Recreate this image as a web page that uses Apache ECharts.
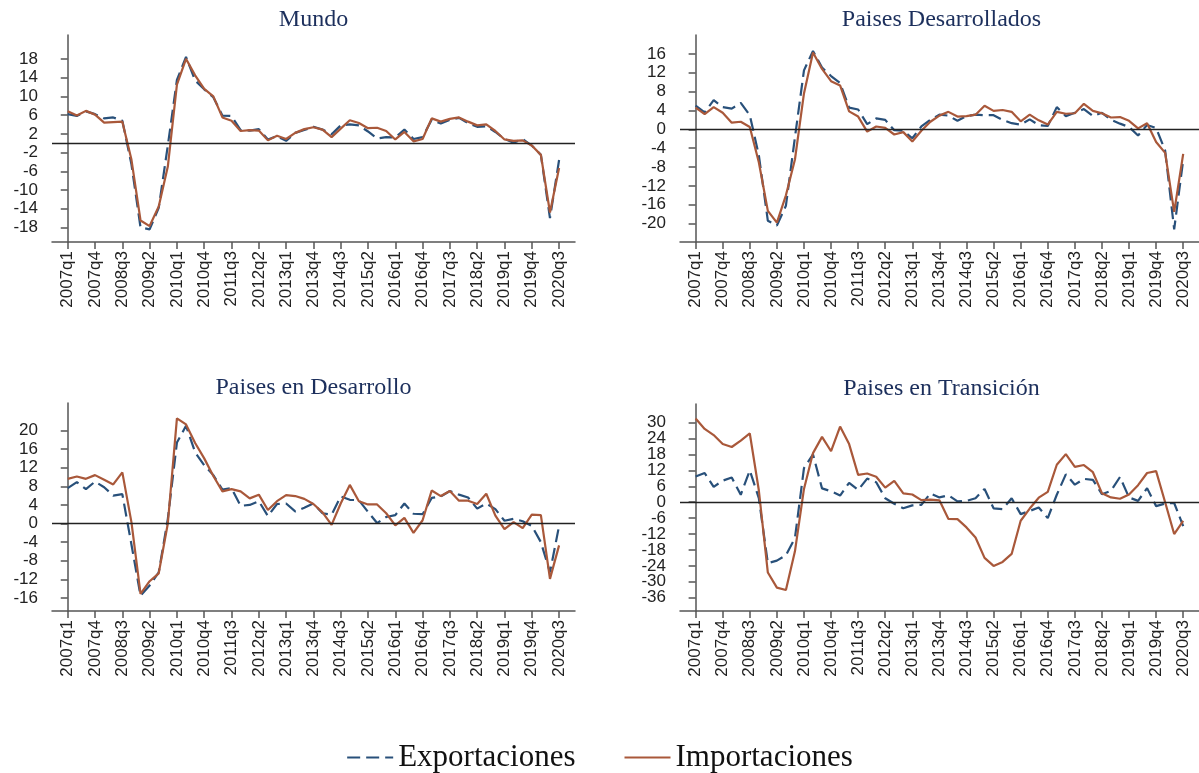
<!DOCTYPE html>
<html>
	<head>
		<meta charset="utf-8">
		<title></title>
		<script src="https://cdn.jsdelivr.net/npm/echarts@6/dist/echarts.min.js"></script>
	</head>
	<body style="margin:0;background:#fff;">
		<div id="my" style="width: 1199px;height: 773px;"></div>

		<script>
			var myChart = echarts.init(document.getElementById('my'));

			// trimestres 2007q1 .. 2020q3
			var quarters = [];
			for (var y = 2007; y <= 2020; y++) {
				for (var q = 1; q <= 4; q++) {
					if (y === 2020 && q > 3) break;
					quarters.push(y + 'q' + q);
				}
			}
			var xTicks = [0, 3, 6, 9, 12, 15, 18, 21, 24, 27, 30, 33, 36, 39, 42, 45, 48, 51, 54];

			var titles = ['Mundo', 'Paises Desarrollados', 'Paises en Desarrollo', 'Paises en Transición'];

			// Mundo
			var mundoExp = [6.2, 5.8, 6.8, 6.2, 5.3, 5.5, 4.8, -4.5, -18.0, -18.4, -13.8, -0.5, 13.5, 18.4, 13.4, 11.5, 9.8, 5.9, 5.8, 2.8,
				2.7, 3.0, 0.8, 1.5, 0.5, 2.2, 2.8, 3.5, 2.9, 1.9, 3.8, 4.0, 3.8, 2.5, 1.0, 1.3, 1.2, 2.9, 0.9, 1.3,
				5.0, 4.2, 5.0, 5.4, 4.3, 3.5, 3.6, 2.4, 0.9, 0.1, 0.9, -0.5, -2.5, -16.0, -3.6];
			var mundoImp = [6.8, 5.9, 6.9, 6.1, 4.4, 4.5, 4.6, -3.5, -16.5, -17.7, -13.5, -5.0, 12.5, 18.0, 14.5, 11.6, 10.0, 5.5, 4.8, 2.6,
				2.8, 2.7, 0.6, 1.6, 0.9, 2.2, 3.0, 3.4, 2.9, 1.3, 3.1, 4.9, 4.3, 3.2, 3.3, 2.6, 0.8, 2.4, 0.4, 0.9,
				5.3, 4.6, 5.2, 5.5, 4.6, 3.8, 4.0, 2.6, 0.8, 0.5, 0.6, -0.5, -2.5, -14.8, -5.3];

			// Paises Desarrollados
			var desaExp = [5.0, 3.6, 6.2, 4.7, 4.4, 5.6, 3.0, -5.5, -19.4, -20.4, -16.2, -1.7, 12.5, 16.6, 13.1, 11.3, 9.8, 4.6, 4.2, 1.1,
				2.3, 2.0, -0.2, -0.3, -1.9, 0.6, 2.0, 3.1, 2.9, 1.8, 2.8, 3.1, 3.0, 3.0, 2.0, 1.3, 1.0, 2.1, 0.9, 0.7,
				4.7, 2.8, 3.5, 4.3, 2.8, 3.5, 2.0, 1.2, 0.5, -1.3, 0.9, 0.3, -4.5, -21.2, -6.5];
			var desaImp = [4.6, 3.2, 4.7, 3.5, 1.4, 1.6, 0.5, -7.0, -17.3, -19.8, -14.0, -6.4, 7.6, 16.3, 12.8, 10.2, 9.3, 3.8, 2.7, -0.5,
				0.6, 0.3, -1.1, -0.6, -2.6, -0.3, 1.6, 2.9, 3.7, 2.7, 2.8, 3.1, 5.0, 3.9, 4.1, 3.7, 1.7, 3.1, 1.9, 1.0,
				3.7, 3.3, 3.4, 5.4, 3.9, 3.4, 2.5, 2.6, 1.8, 0.2, 1.3, -2.7, -5.0, -17.5, -5.2];

			// Paises en Desarrollo
			var enDesExp = [7.6, 8.9, 7.4, 9.0, 7.8, 6.0, 6.3, -4.5, -15.5, -13.3, -10.5, 1.0, 17.4, 21.0, 15.3, 12.5, 10.4, 7.3, 7.6, 3.8,
				4.0, 4.8, 1.6, 4.2, 4.3, 2.6, 3.4, 4.3, 2.2, 1.9, 5.8, 5.1, 5.0, 2.5, 0.1, 1.4, 1.8, 4.3, 2.1, 2.0,
				5.5, 5.8, 7.0, 6.2, 5.6, 3.2, 4.3, 3.1, 0.6, 1.0, 0.5, -0.5, -4.0, -10.5, -0.5];
			var enDesImp = [9.6, 10.1, 9.6, 10.4, 9.4, 8.4, 11.0, 0.3, -15.1, -12.4, -10.7, 0.0, 22.6, 21.3, 17.3, 14.0, 10.2, 6.9, 7.4, 6.9,
				5.4, 6.2, 2.9, 4.8, 6.1, 5.9, 5.3, 4.2, 2.4, -0.3, 4.3, 8.3, 4.8, 4.1, 4.1, 2.2, -0.4, 1.2, -2.0, 0.7,
				7.1, 5.9, 7.0, 4.9, 4.9, 4.2, 6.4, 1.7, -1.2, 0.3, -1.0, 1.9, 1.8, -11.9, -4.7];

			// Paises en Transicion
			var tranExp = [9.7, 11.0, 5.8, 8.1, 9.3, 2.8, 12.0, 1.5, -23.0, -22.0, -20.0, -13.5, 12.8, 18.0, 5.2, 4.1, 2.5, 7.3, 4.6, 8.9,
				7.5, 1.5, -0.6, -2.3, -1.2, -1.0, 3.3, 1.8, 2.6, 0.3, 0.5, 1.5, 5.0, -2.3, -2.6, 1.5, -4.5, -3.3, -2.0, -6.0,
				2.8, 10.5, 6.6, 8.8, 8.4, 3.0, 4.3, 9.5, 1.8, 0.5, 5.3, -1.5, -0.5, -0.3, -9.0];
			var tranImp = [31.5, 27.6, 25.3, 21.9, 20.8, 23.2, 25.9, 4.5, -26.5, -32.2, -33.1, -18.5, 5.0, 18.5, 24.6, 19.2, 28.5, 21.9, 10.3, 10.8,
				9.6, 5.5, 8.0, 3.3, 2.9, 0.8, 1.0, 0.7, -6.3, -6.4, -9.5, -13.3, -21.0, -24.0, -22.5, -19.5, -7.0, -2.4, 1.7, 3.9,
				14.1, 18.1, 13.3, 14.0, 11.3, 3.4, 1.8, 1.3, 2.9, 6.4, 11.0, 11.7, 0.0, -12.0, -7.0];

			var yTicks1 = [-18, -14, -10, -6, -2, 2, 6, 10, 14, 18];
			var yTicks2 = [-20, -16, -12, -8, -4, 0, 4, 8, 12, 16];
			var yTicks3 = [-16, -12, -8, -4, 0, 4, 8, 12, 16, 20];
			var yTicks4 = [-36, -30, -24, -18, -12, -6, 0, 6, 12, 18, 24, 30];

			var expColor = '#28507a';
			var impColor = '#a9583a';

			var panels = [
				{exp: mundoExp, imp: mundoImp, ticks: yTicks1, min: -21.1, max: 23.1, left: 52, top: 35, height: 207},
				{exp: desaExp, imp: desaImp, ticks: yTicks2, min: -23.9, max: 20.0, left: 680, top: 35, height: 207},
				{exp: enDesExp, imp: enDesImp, ticks: yTicks3, min: -18.8, max: 25.9, left: 52, top: 403, height: 208},
				{exp: tranExp, imp: tranImp, ticks: yTicks4, min: -41, max: 37, left: 680, top: 404, height: 207}
			];
			var plotWidth = 523;

			function toPairs(arr) {
				return arr.map(function (v, i) { return [i, v]; });
			}

			var labelFont = {
				color: '#222',
				fontFamily: 'Liberation Sans, Arial',
				fontSize: 17
			};

			var grids = [], xAxes = [], yAxes = [], series = [], graphics = [];
			panels.forEach(function (p, i) {
				grids.push({left: p.left, top: p.top, width: plotWidth, height: p.height});
				xAxes.push({
					type: 'value',
					gridIndex: i,
					min: -1.73,
					max: 55.75,
					splitLine: {show: false},
					axisLine: {onZero: false, lineStyle: {color: '#555', width: 1.5}},
					axisTick: {customValues: xTicks, length: 7, lineStyle: {color: '#555', width: 1.5}},
					axisLabel: Object.assign({
						customValues: xTicks,
						rotate: 90,
						margin: 9,
						showMinLabel: true,
						showMaxLabel: true,
						formatter: function (v) { return quarters[Math.round(v)]; }
					}, labelFont)
				});
				// etiquetas alternadas en dos ejes para que no se oculten por solape
				var evenTicks = p.ticks.filter(function (t, k) { return k % 2 === 0; });
				var oddTicks = p.ticks.filter(function (t, k) { return k % 2 === 1; });
				yAxes.push({
					type: 'value',
					gridIndex: i,
					min: p.min,
					max: p.max,
					splitLine: {show: false},
					axisLine: {show: true, lineStyle: {color: '#555', width: 1.5}},
					axisTick: {show: true, customValues: p.ticks, length: 7, lineStyle: {color: '#555', width: 1.5}},
					axisLabel: Object.assign({customValues: evenTicks, margin: 14, showMinLabel: true, showMaxLabel: true}, labelFont)
				});
				yAxes.push({
					type: 'value',
					gridIndex: i,
					position: 'left',
					min: p.min,
					max: p.max,
					splitLine: {show: false},
					axisLine: {show: false},
					axisTick: {show: false},
					axisLabel: Object.assign({customValues: oddTicks, margin: 14, showMinLabel: true, showMaxLabel: true}, labelFont)
				});
				series.push({
					name: 'Exportaciones',
					type: 'line',
					xAxisIndex: i,
					yAxisIndex: 2 * i,
					data: toPairs(p.exp),
					symbol: 'none',
					lineStyle: {color: expColor, width: 2.2, type: [13, 6]},
					itemStyle: {color: expColor},
					markLine: {
						silent: true,
						symbol: 'none',
						label: {show: false},
						lineStyle: {color: '#222', width: 1.3, type: 'solid'},
						data: [{yAxis: 0}]
					},
					z: 2
				});
				series.push({
					name: 'Importaciones',
					type: 'line',
					xAxisIndex: i,
					yAxisIndex: 2 * i,
					data: toPairs(p.imp),
					symbol: 'none',
					lineStyle: {color: impColor, width: 2.2},
					itemStyle: {color: impColor},
					z: 3
				});
				graphics.push({
					type: 'text',
					x: p.left + plotWidth / 2,
					y: p.top - 15,
					style: {
						text: titles[i],
						fill: '#1c2f5c',
						font: '24px "Liberation Serif", "Times New Roman", serif',
						textAlign: 'center',
						textVerticalAlign: 'middle'
					}
				});
			});

			var option = {
				animation: false,
				backgroundColor: '#fff',
				grid: grids,
				xAxis: xAxes,
				yAxis: yAxes,
				series: series,
				graphic: graphics,
				legend: {
					data: ['Exportaciones', 'Importaciones'],
					left: 'center',
					top: 737,
					itemWidth: 46,
					itemHeight: 14,
					itemGap: 48,
					itemStyle: {opacity: 0},
					textStyle: {
						color: '#111',
						fontFamily: 'Liberation Serif, Times New Roman, serif',
						fontSize: 31
					}
				}
			};

			myChart.setOption(option);
		</script>
	</body>
</html>
